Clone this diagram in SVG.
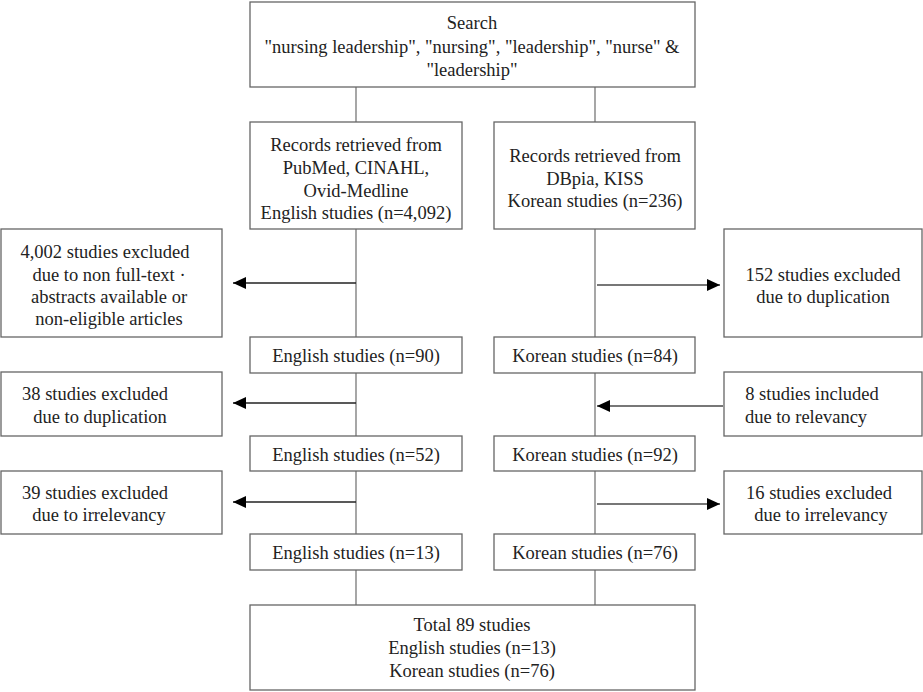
<svg xmlns="http://www.w3.org/2000/svg" width="923" height="692" viewBox="0 0 923 692">
<style>
.box{fill:#fff;stroke:#666;stroke-width:1.3}
.t{font-family:"Liberation Serif","DejaVu Serif",serif;font-size:18.5px;fill:#222;text-anchor:middle}
.v{stroke:#777;stroke-width:1.3;fill:none}
.al{stroke:#222;stroke-width:1.6;fill:none}
.ar{stroke:#777;stroke-width:2;fill:none}
</style>
<defs>
<marker id="ah" markerUnits="userSpaceOnUse" markerWidth="14" markerHeight="12" refX="13" refY="6" orient="auto">
<path d="M0,0 L13,6 L0,12 Z" fill="#000"/>
</marker>
</defs>
<rect width="923" height="692" fill="#fff"/>
<g id="connectors">
<line class="v" x1="356" y1="87" x2="356" y2="122"/>
<line class="v" x1="595" y1="87" x2="595" y2="122"/>
<line class="v" x1="356" y1="229" x2="356" y2="337"/>
<line class="v" x1="595" y1="229" x2="595" y2="337"/>
<line class="v" x1="356" y1="373" x2="356" y2="436"/>
<line class="v" x1="595" y1="373" x2="595" y2="436"/>
<line class="v" x1="356" y1="471" x2="356" y2="534"/>
<line class="v" x1="595" y1="471" x2="595" y2="534"/>
<line class="v" x1="356" y1="570" x2="356" y2="605"/>
<line class="v" x1="595" y1="570" x2="595" y2="605"/>
<line class="al" x1="356" y1="283" x2="233" y2="283" marker-end="url(#ah)"/>
<line class="ar" x1="597" y1="285" x2="720" y2="285" marker-end="url(#ah)"/>
<line class="al" x1="356" y1="403" x2="233" y2="403" marker-end="url(#ah)"/>
<line class="ar" x1="723" y1="406" x2="597" y2="406" marker-end="url(#ah)"/>
<line class="al" x1="356" y1="502" x2="233" y2="502" marker-end="url(#ah)"/>
<line class="ar" x1="597" y1="504" x2="720" y2="504" marker-end="url(#ah)"/>
</g>
<g id="search">
<rect class="box" x="250" y="2" width="445" height="85"/>
<text class="t" x="472" y="29">Search</text>
<text class="t" x="472" y="53">"nursing leadership", "nursing", "leadership", "nurse" &amp;</text>
<text class="t" x="472" y="76">"leadership"</text>
</g>
<g id="eng-records">
<rect class="box" x="250" y="122" width="212" height="107"/>
<text class="t" x="356" y="151">Records retrieved from</text>
<text class="t" x="356" y="174">PubMed, CINAHL,</text>
<text class="t" x="356" y="197">Ovid-Medline</text>
<text class="t" x="356" y="219">English studies (n=4,092)</text>
</g>
<g id="kor-records">
<rect class="box" x="494" y="122" width="201" height="107"/>
<text class="t" x="595" y="162">Records retrieved from</text>
<text class="t" x="595" y="185">DBpia, KISS</text>
<text class="t" x="595" y="207">Korean studies (n=236)</text>
</g>
<g id="excl-4002">
<rect class="box" x="1" y="229" width="221" height="108"/>
<text class="t" x="105" y="258">4,002 studies excluded</text>
<text class="t" x="109" y="281">due to non full-text ·</text>
<text class="t" x="109" y="303">abstracts available or</text>
<text class="t" x="109" y="325">non-eligible articles</text>
</g>
<g id="excl-152">
<rect class="box" x="724" y="229" width="198" height="108"/>
<text class="t" x="823" y="281">152 studies excluded</text>
<text class="t" x="823" y="303">due to duplication</text>
</g>
<g id="eng-90">
<rect class="box" x="250" y="337" width="212" height="36"/>
<text class="t" x="356" y="362">English studies (n=90)</text>
</g>
<g id="kor-84">
<rect class="box" x="494" y="337" width="201" height="36"/>
<text class="t" x="595" y="362">Korean studies (n=84)</text>
</g>
<g id="excl-38">
<rect class="box" x="1" y="372" width="221" height="64"/>
<text class="t" x="95" y="400">38 studies excluded</text>
<text class="t" x="100" y="423">due to duplication</text>
</g>
<g id="incl-8">
<rect class="box" x="724" y="372" width="198" height="64"/>
<text class="t" x="812" y="400">8 studies included</text>
<text class="t" x="806" y="423">due to relevancy</text>
</g>
<g id="eng-52">
<rect class="box" x="250" y="436" width="212" height="35"/>
<text class="t" x="356" y="461">English studies (n=52)</text>
</g>
<g id="kor-92">
<rect class="box" x="494" y="436" width="201" height="35"/>
<text class="t" x="595" y="461">Korean studies (n=92)</text>
</g>
<g id="excl-39">
<rect class="box" x="1" y="471" width="221" height="63"/>
<text class="t" x="95" y="499">39 studies excluded</text>
<text class="t" x="99" y="521">due to irrelevancy</text>
</g>
<g id="excl-16">
<rect class="box" x="724" y="471" width="198" height="63"/>
<text class="t" x="819" y="499">16 studies excluded</text>
<text class="t" x="821" y="521">due to irrelevancy</text>
</g>
<g id="eng-13">
<rect class="box" x="250" y="534" width="212" height="36"/>
<text class="t" x="356" y="559">English studies (n=13)</text>
</g>
<g id="kor-76">
<rect class="box" x="494" y="534" width="201" height="36"/>
<text class="t" x="595" y="559">Korean studies (n=76)</text>
</g>
<g id="total">
<rect class="box" x="250" y="605" width="445" height="85"/>
<text class="t" x="472" y="631">Total 89 studies</text>
<text class="t" x="472" y="654">English studies (n=13)</text>
<text class="t" x="472" y="677">Korean studies (n=76)</text>
</g>
</svg>
